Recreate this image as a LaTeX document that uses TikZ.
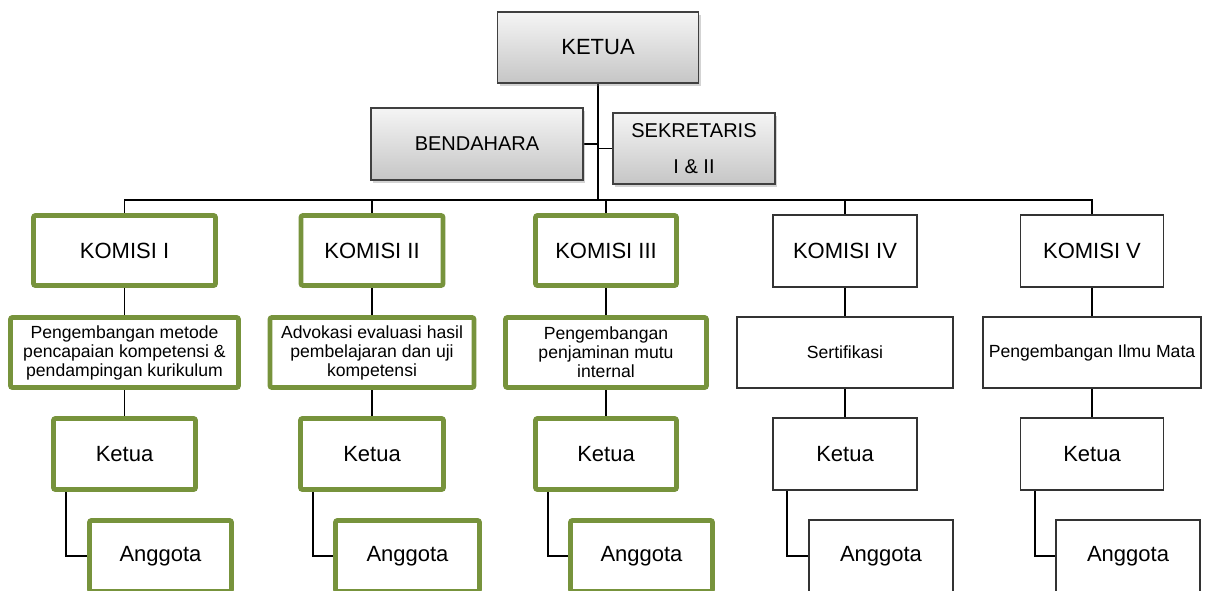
\documentclass[tikz,border=0pt]{standalone}
\usepackage{fontspec}
\setmainfont{Liberation Sans}
\usetikzlibrary{shadows,backgrounds,calc}
\definecolor{kgreen}{RGB}{119,147,60}
\begin{document}
\begin{tikzpicture}[x=0.75pt,y=-0.75pt,
 wh/.style 2 args={minimum width=#1*0.75pt, minimum height=#2*0.75pt},
 base/.style={inner sep=0pt, align=center, font=\fontsize{16.5}{19}\selectfont},
 gbox/.style={base, draw=kgreen, line width=3.6pt, fill=white, rounded corners=1.5pt},
 bbox/.style={base, draw=black!80, line width=0.8pt, fill=white},
 topbox/.style={base, draw=black!75, line width=0.8pt, top color=gray!8, bottom color=gray!45,
   drop shadow={shadow xshift=1.5pt, shadow yshift=-2pt, opacity=0.35}},
 small/.style={font=\fontsize{13.2}{14.25}\selectfont},
 mid/.style={font=\fontsize{15}{27}\selectfont},
 link/.style={draw=black, line width=1.3pt}]
\useasboundingbox (0,0) rectangle (1206,590);

% top level
\node[topbox, wh={201}{71}] (ketua) at (598,47.5) {KETUA};
\node[topbox, mid, wh={212}{72}] (benda) at (477,144) {BENDAHARA};
\node[topbox, mid, wh={162}{71}] (sek) at (694,148.5) {SEKRETARIS\\I \& II};

% komisi
\node[gbox, wh={182}{70}] (k1) at (124.5,250.5) {KOMISI I};
\node[gbox, wh={142}{70}] (k2) at (372,250.5) {KOMISI II};
\node[gbox, wh={141}{70}] (k3) at (606,250.5) {KOMISI III};
\node[bbox, wh={144}{72}] (k4) at (845,251) {KOMISI IV};
\node[bbox, wh={143}{72}] (k5) at (1092,251) {KOMISI V};

% descriptions
\node[gbox, small, wh={228}{70}] (d1) at (124.5,352.5) {Pengembangan metode\\pencapaian kompetensi \&\\pendampingan kurikulum};
\node[gbox, small, wh={204}{70}] (d2) at (372,352.5) {Advokasi evaluasi hasil\\pembelajaran dan uji\\kompetensi};
\node[gbox, small, wh={201}{70}] (d3) at (606,352.5) {Pengembangan\\penjaminan mutu\\internal};
\node[bbox, small, wh={216}{71}] (d4) at (845,352.5) {Sertifikasi};
\node[bbox, small, wh={218}{71}] (d5) at (1092,352.5) {Pengembangan Ilmu Mata};

% ketua
\node[gbox, wh={142}{71}] (t1) at (124.5,454) {Ketua};
\node[gbox, wh={143}{71}] (t2) at (372,454) {Ketua};
\node[gbox, wh={141}{71}] (t3) at (606,454) {Ketua};
\node[bbox, wh={144}{72}] (t4) at (845,454) {Ketua};
\node[bbox, wh={143}{72}] (t5) at (1092,454) {Ketua};

% anggota
\node[gbox, wh={142}{71}] (a1) at (160.5,556) {Anggota};
\node[gbox, wh={144}{71}] (a2) at (407.5,556) {Anggota};
\node[gbox, wh={142}{71}] (a3) at (641.5,556) {Anggota};
\node[bbox, wh={144}{72}] (a4) at (881,556) {Anggota};
\node[bbox, wh={144}{72}] (a5) at (1128,556) {Anggota};

\begin{scope}[on background layer]
\coordinate (bus) at (598,200);
\draw[link] (ketua.south) -- (ketua.south |- bus);
\draw[link] (benda.east) -- (ketua.south |- benda.east);
\draw[link] (sek.west) -- (ketua.south |- sek.west);
\draw[link] (k1.north) -- (k1.north |- bus) -- (k5.north |- bus) -- (k5.north);
\foreach \i in {2,3,4} { \draw[link] (k\i.north) -- (k\i.north |- bus); }
\foreach \i in {1,...,5} {
  \draw[link] (k\i.south) -- (d\i.north);
  \draw[link] (d\i.south) -- (t\i.north);
  \draw[link] ([xshift=11pt]t\i.south west) |- (a\i.west);
}
\end{scope}
\end{tikzpicture}
\end{document}
